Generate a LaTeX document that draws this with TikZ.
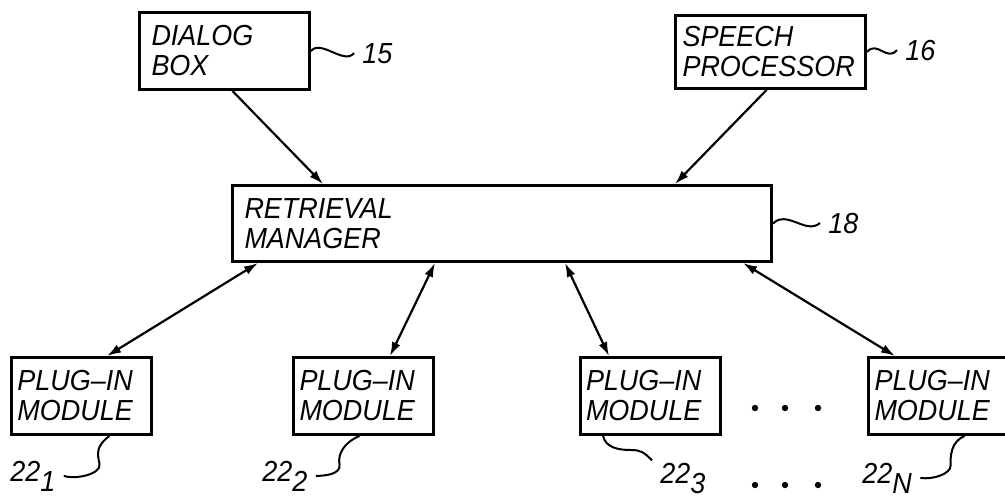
\documentclass[tikz,border=0pt]{standalone}
\usepackage{fontspec}
\setmainfont[FakeStretch=0.93]{Liberation Sans}
\usetikzlibrary{arrows.meta}

\newcommand{\refnum}[2]{#1\raisebox{-5pt}{#2}}

\begin{document}
\begin{tikzpicture}[x=0.5pt,y=-0.5pt,
  blk/.style={draw, line width=1.5pt, align=left, inner ysep=2pt,
    font=\itshape\fontsize{14.5}{15}\selectfont},
  lbl/.style={inner sep=4pt, anchor=base west,
    font=\itshape\fontsize{14.5}{15}\selectfont},
  squig/.style={line width=1pt},
  link/.style={line width=1.1pt, >={Latex[length=7pt,width=4.5pt]}}]
\useasboundingbox (0,0) rectangle (1005,500);
% upper blocks
\node[blk, text width=73pt, inner xsep=6pt, minimum height=38.5pt] (dlg) at (224.5,51) {DIALOG\\BOX};
\node[blk, text width=88pt, inner xsep=3.5pt, minimum height=36.5pt] (spch) at (770.5,52) {SPEECH\\PROCESSOR};
\node[blk, text width=257.5pt, inner xsep=6pt, minimum height=38pt] (rm) at (502,223.5) {RETRIEVAL\\MANAGER};
% plug-in modules
\node[blk, text width=64pt, inner xsep=3pt, minimum height=38.5pt] (m1) at (81.5,396) {PLUG--IN\\MODULE};
\node[blk, text width=64pt, inner xsep=3pt, minimum height=38.5pt] (m2) at (363.5,396) {PLUG--IN\\MODULE};
\node[blk, text width=64pt, inner xsep=3pt, minimum height=38.5pt] (m3) at (650,396) {PLUG--IN\\MODULE};
\node[blk, text width=64pt, inner xsep=3pt, minimum height=38.5pt] (mN) at (938.5,396) {PLUG--IN\\MODULE};
% reference numerals
\node[lbl] (l15) at (354,63) {15};
\node[lbl] (l16) at (897,60) {16};
\node[lbl] (l18) at (820,233) {18};
\node[lbl] (l1) at (2,481) {\refnum{22}{1}};
\node[lbl] (l2) at (254,481) {\refnum{22}{2}};
\node[lbl] (l3) at (652,483) {\refnum{22}{3}};
\node[lbl] (lN) at (854,483) {\refnum{22}{N}};
% arrows
\draw[link,->] ([xshift=4pt]dlg.south) -- ([xshift=46pt]rm.north west);
\draw[link,->] ([xshift=-2pt]spch.south) -- ([xshift=-49pt]rm.north east);
\draw[link,<->] ([xshift=13.5pt]rm.south west) -- ([xshift=12.75pt]m1.north);
\draw[link,<->] ([xshift=102pt]rm.south west) -- ([xshift=13.25pt]m2.north);
\draw[link,<->] ([xshift=167pt]rm.south west) -- ([xshift=-20.5pt]m3.north);
\draw[link,<->] ([xshift=-15pt]rm.south east) -- ([xshift=-21.75pt]mN.north);
% leader lines
\draw[squig] (dlg.east) .. controls +(10,-12) and +(-10,12) .. (l15.west);
\draw[squig] (spch.east) .. controls +(10,-12) and +(-10,12) .. (l16.west);
\draw[squig] (rm.east) .. controls +(14,-14) and +(-14,12) .. (l18.west);
\draw[squig] ([xshift=14pt]m1.south) .. controls +(-14,10) and +(-2,-10) .. ++(-10,28)
  .. controls +(2,10) and +(12,4) .. (l1.east);
\draw[squig] ([xshift=-2pt]m2.south) .. controls +(-15,6) and +(-2,-10) .. ++(-20,28)
  .. controls +(2,10) and +(10,0) .. (l2.east);
\draw[squig] ([xshift=-23.5pt]m3.south) .. controls +(3,12) and +(-12,0) .. ++(28,14)
  .. controls +(10,0) and +(-8,-8) .. ([yshift=-3pt]l3.north west);
\draw[squig] ([xshift=13pt]mN.south) .. controls +(-14,6) and +(0,-10) .. ++(-14,30)
  .. controls +(0,8) and +(12,2) .. (lN.east);
% dots
\foreach \x in {755,785,818} {
  \fill (\x,408) circle[radius=3.2];
  \fill (\x,485) circle[radius=3.2];
}
\end{tikzpicture}
\end{document}
